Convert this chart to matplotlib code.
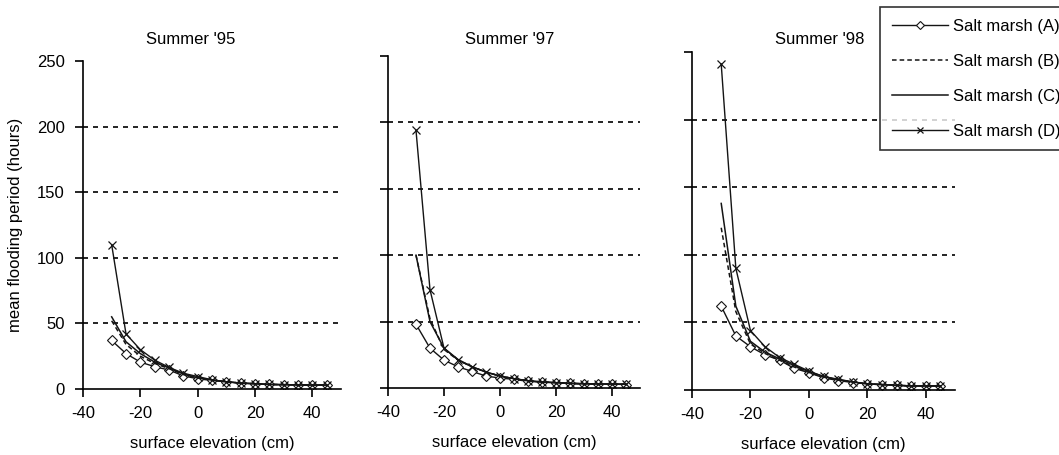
import matplotlib
matplotlib.use("Agg")
from matplotlib import pyplot as plt

plt.rcParams['font.family'] = ['Liberation Sans', 'DejaVu Sans']
plt.rcParams['axes.unicode_minus'] = False

# surface elevation (cm)
elevation = [-30, -25, -20, -15, -10, -5, 0, 5, 10, 15, 20, 25, 30, 35, 40, 45]

# mean flooding period (hours)
a95 = [37, 27, 20.5, 17, 14.5, 10, 7.8, 6.5, 5.5, 4.5, 4, 3.5, 3.3, 3.2, 3, 3]
b95 = [52, 34, 25, 19.5, 15.5, 11, 8.5, 6.8, 5.5, 4.5, 4, 3.5, 3.3, 3.1, 3, 3]
c95 = [55, 36, 27, 20.5, 16, 11.5, 8.5, 6.8, 5.5, 4.5, 4, 3.5, 3.3, 3.1, 3, 3]
d95 = [110, 42, 30, 22, 16.5, 12, 9.5, 7, 5.5, 4.5, 4, 3.5, 3.3, 3.1, 3, 3]

a97 = [48, 30, 21, 16, 12.5, 9, 7.5, 6.5, 5, 4.5, 4, 3.5, 3, 3, 3, 2.5]
b97 = [100, 52, 29, 21, 16, 12, 9, 7, 5.5, 4.5, 4, 3.5, 3.2, 3, 3, 2.8]
c97 = [100, 50, 30, 21.5, 16, 12, 9, 7, 5.5, 4.5, 4, 3.5, 3.2, 3, 3, 2.8]
d97 = [194, 74, 30, 21, 16, 12, 9, 7, 5.5, 4.5, 4, 3.5, 3.2, 3, 3, 2.8]

a98 = [62, 40, 32, 26, 22, 16, 12.8, 9, 7, 5.5, 4.5, 4, 3.5, 3, 3, 3]
b98 = [120, 58, 34, 27, 22, 17, 13, 9.5, 7.5, 6, 4.5, 4, 3.5, 3, 3, 3]
c98 = [138, 62, 36, 28, 23, 18, 13.5, 10, 7.5, 6, 4.5, 4, 3.5, 3, 3, 3]
d98 = [241, 90, 44, 32, 24, 19, 14, 10, 8, 6, 4.5, 4, 3.5, 3, 3, 3]

titles = ["Summer '95", "Summer '97", "Summer '98"]
series = [(a95, b95, c95, d95), (a97, b97, c97, d97), (a98, b98, c98, d98)]
names = ['Salt marsh (A)', 'Salt marsh (B)', 'Salt marsh (C)', 'Salt marsh (D)']
yticks = [0, 50, 100, 150, 200, 250]
xticks = [-40, -20, 0, 20, 40]

W, H = 1059, 455
# axes boxes in pixels: left, right, top, bottom
boxes = [(83, 341, 61, 389), (388, 640, 56, 388), (692, 955, 52, 390)]
title_x = [191, 510, 820]

fig = plt.figure(figsize=(W / 100, H / 100), dpi=100)
lc = '#141414'

for i, (l, r, t, b) in enumerate(boxes):
    ax = fig.add_axes([l / W, 1 - b / H, (r - l) / W, (b - t) / H])
    a, bb, c, d = series[i]
    la, = ax.plot(elevation, a, color=lc, lw=1.0, marker='D', ms=5.5, mfc='white', mec=lc, mew=0.8)
    lb, = ax.plot(elevation, bb, color=lc, lw=1.1, ls=(0, (3, 2)))
    lcc, = ax.plot(elevation, c, color=lc, lw=1.1)
    ld, = ax.plot(elevation, d, color=lc, lw=1.0, marker='x', ms=5.5, mew=0.9)

    ax.set_xlim(-40, 50)
    ax.set_ylim(0, 250)
    ax.set_xticks(xticks)
    ax.set_yticks(yticks)
    ax.spines['top'].set_visible(False)
    ax.spines['right'].set_visible(False)
    ax.spines['left'].set_linewidth(1.2)
    ax.spines['bottom'].set_linewidth(1.2)
    ax.tick_params(direction='out', length=6, width=1.2, labelsize=12, color='black')
    ax.tick_params(axis='x', pad=6)
    ax.tick_params(axis='y', pad=7)
    ax.yaxis.grid(True, color='black', ls=(0, (3, 3)), lw=1.2)
    gl = ax.get_ygridlines()
    gl[0].set_visible(False)
    gl[-1].set_visible(False)
    ax.set_axisbelow(True)
    if i > 0:
        ax.set_yticklabels([])
    else:
        ax.set_ylabel('mean flooding period (hours)', fontsize=12, labelpad=10)
    ax.set_xlabel('surface elevation (cm)', fontsize=12, labelpad=11)
    fig.text(title_x[i] / W, 1 - 39 / H, titles[i], ha='center', va='center', fontsize=12)

leg = fig.legend([la, lb, lcc, ld], names, loc='upper left', bbox_to_anchor=(880 / W, 1 - 7 / H),
                 fontsize=12, frameon=True, fancybox=False, shadow=False, numpoints=1,
                 markerscale=0.75, handlelength=3.4, handletextpad=0.3, labelspacing=1.2,
                 borderpad=0.7, borderaxespad=0)
leg.get_frame().set_edgecolor('black')
leg.get_frame().set_linewidth(1.2)

fig.savefig('out.png', dpi=100)
